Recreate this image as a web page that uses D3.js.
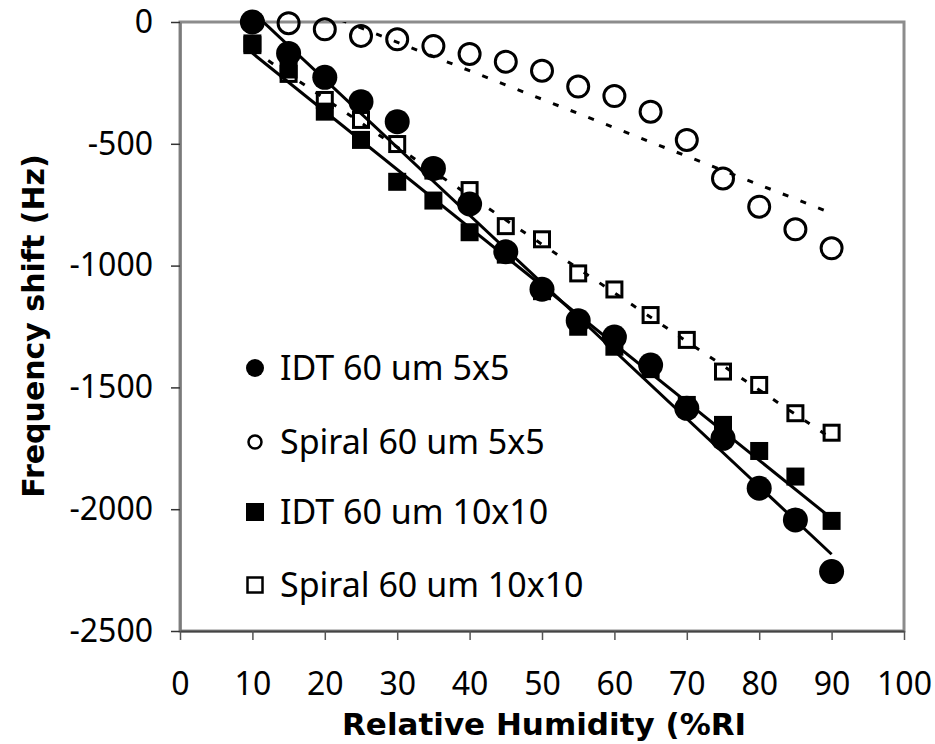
<!DOCTYPE html>
<html>
<head>
<meta charset="utf-8">
<script src="https://cdn.jsdelivr.net/npm/d3@7"></script>
<style>
  body { margin: 0; background: #fff; }
  text { font-family: "Noto Sans", "Open Sans", sans-serif; fill: #000; }
</style>
</head>
<body>
<div id="chart"></div>
<script>
// Relative humidity steps (%RH)
const rh = [10, 15, 20, 25, 30, 35, 40, 45, 50, 55, 60, 65, 70, 75, 80, 85, 90];

// Frequency shift (Hz)
const idt5 = [0, -129, -227, -327, -409, -601, -747, -943, -1097, -1226, -1293, -1408, -1586, -1709, -1914, -2044, -2256];
const spiral5 = [0, -5, -30, -57, -71, -99, -131, -163, -200, -265, -304, -368, -484, -642, -758, -851, -929];
const idt10 = [-88, -195, -368, -484, -656, -733, -863, -955, -1105, -1251, -1333, -1425, -1572, -1654, -1761, -1866, -2048];
const spiral10 = [-95, -213, -320, -402, -501, -610, -690, -838, -892, -1032, -1098, -1203, -1305, -1435, -1490, -1606, -1686];

// linear trendlines as [rh, Hz] end points
const idt5Fit = [[10, 42], [90, -2185]];
const spiral5Fit = [[10, 151], [90, -785]];
const idt10Fit = [[10, -128], [90, -2038]];
const spiral10Fit = [[10, -115], [90, -1710]];

const legendLabels = ["IDT 60 um 5x5", "Spiral 60 um 5x5", "IDT 60 um 10x10", "Spiral 60 um 10x10"];
const xTicks = [0, 10, 20, 30, 40, 50, 60, 70, 80, 90, 100];
const yTicks = [0, -500, -1000, -1500, -2000, -2500];

const W = 935, H = 744;
const plot = {left: 180, right: 904, top: 22, bottom: 631};

const svg = d3.select("#chart")
    .append("svg")
    .attr("width", W)
    .attr("height", H)
    .style("background", "#fff");

const x = d3.scaleLinear().domain([0, 100]).range([plot.left, plot.right]);
const y = d3.scaleLinear().domain([-2500, 0]).range([plot.bottom, plot.top]);

// plot area border (gray)
svg.append("rect")
    .attr("x", plot.left)
    .attr("y", plot.top)
    .attr("width", plot.right - plot.left)
    .attr("height", plot.bottom - plot.top)
    .attr("fill", "none")
    .attr("stroke", "#8c8c8c")
    .attr("stroke-width", 3);

// axes
const yAxis = svg.append("g")
    .attr("transform", `translate(${plot.left},0)`)
    .call(d3.axisLeft(y)
        .tickValues(yTicks)
        .tickFormat((d) => String(d))
        .tickSize(9).tickSizeOuter(0).tickPadding(18));
yAxis.select(".domain").attr("stroke", "#7a7a7a").attr("stroke-width", 2.5);
yAxis.selectAll(".tick line").attr("stroke", "#333").attr("stroke-width", 1.5);
yAxis.selectAll("text").style("font-size", "32px").style("font-family", "'Noto Sans', sans-serif");

const xAxis = svg.append("g")
    .attr("transform", `translate(0,${plot.bottom})`)
    .call(d3.axisBottom(x)
        .tickValues(xTicks)
        .tickFormat((d) => String(d))
        .tickSize(9).tickSizeOuter(0).tickPadding(32));
xAxis.select(".domain").attr("stroke", "#444").attr("stroke-width", 2);
xAxis.selectAll(".tick line").attr("stroke", "#555").attr("stroke-width", 1.5);
xAxis.selectAll("text").style("font-size", "32px").style("font-family", "'Noto Sans', sans-serif");

// axis titles
svg.append("text")
    .attr("transform", "translate(44,326) rotate(-90)")
    .attr("text-anchor", "middle")
    .style("font-family", "'DejaVu Sans', sans-serif")
    .style("font-size", "30px")
    .style("font-weight", "bold")
    .text("Frequency shift (Hz)");

svg.append("text")
    .attr("x", 342)
    .attr("y", 735)
    .attr("text-anchor", "start")
    .style("font-family", "'DejaVu Sans', sans-serif")
    .style("font-size", "31px")
    .style("font-weight", "bold")
    .text("Relative Humidity (%RI");

// trendlines, clipped to plot area
svg.append("clipPath")
    .attr("id", "plotClip")
    .append("rect")
    .attr("x", plot.left)
    .attr("y", plot.top)
    .attr("width", plot.right - plot.left)
    .attr("height", plot.bottom - plot.top);

const line = d3.line().x((d) => x(d[0])).y((d) => y(d[1]));
const fits = [
    {pts: idt5Fit, dash: null},
    {pts: idt10Fit, dash: null},
    {pts: spiral5Fit, dash: "6 13"},
    {pts: spiral10Fit, dash: "6 13"},
];
svg.append("g")
    .attr("clip-path", "url(#plotClip)")
    .selectAll("path")
    .data(fits)
    .join("path")
    .attr("d", (d) => line(d.pts))
    .attr("fill", "none")
    .attr("stroke", "#000")
    .attr("stroke-width", 3)
    .attr("stroke-dasharray", (d) => d.dash);

// markers
const pts = (vals) => rh.map((r, i) => [r, vals[i]]);
const sq = 18;

svg.append("g")
    .selectAll("rect")
    .data(pts(spiral10))
    .join("rect")
    .attr("x", (d) => x(d[0]) - sq / 2 + 1.5)
    .attr("y", (d) => y(d[1]) - sq / 2 + 1.5)
    .attr("width", sq - 3)
    .attr("height", sq - 3)
    .attr("fill", "none")
    .attr("stroke", "#000")
    .attr("stroke-width", 3);

svg.append("g")
    .selectAll("rect")
    .data(pts(idt10))
    .join("rect")
    .attr("x", (d) => x(d[0]) - sq / 2)
    .attr("y", (d) => y(d[1]) - sq / 2)
    .attr("width", sq)
    .attr("height", sq)
    .attr("fill", "#000");

svg.append("g")
    .selectAll("circle")
    .data(pts(spiral5))
    .join("circle")
    .attr("cx", (d) => x(d[0]))
    .attr("cy", (d) => y(d[1]))
    .attr("r", 10.5)
    .attr("fill", "none")
    .attr("stroke", "#000")
    .attr("stroke-width", 3);

svg.append("g")
    .selectAll("circle")
    .data(pts(idt5))
    .join("circle")
    .attr("cx", (d) => x(d[0]))
    .attr("cy", (d) => y(d[1]))
    .attr("r", 12.5)
    .attr("fill", "#000");

// legend
const legendY = [368, 442, 512, 585];
const legend = svg.append("g");
legend.append("circle").attr("cx", 255).attr("cy", legendY[0]).attr("r", 9).attr("fill", "#000");
legend.append("circle").attr("cx", 255).attr("cy", legendY[1]).attr("r", 6.5)
    .attr("fill", "none").attr("stroke", "#000").attr("stroke-width", 2.5);
legend.append("rect").attr("x", 246).attr("y", legendY[2] - 9).attr("width", 18).attr("height", 18).attr("fill", "#000");
legend.append("rect").attr("x", 247.5).attr("y", legendY[3] - 7.5).attr("width", 15).attr("height", 15)
    .attr("fill", "none").attr("stroke", "#000").attr("stroke-width", 2.5);

legend.selectAll("text")
    .data(legendLabels)
    .join("text")
    .attr("x", 280)
    .attr("y", (d, i) => legendY[i] + 12)
    .style("font-size", "34px")
    .text((d) => d);
</script>
</body>
</html>
